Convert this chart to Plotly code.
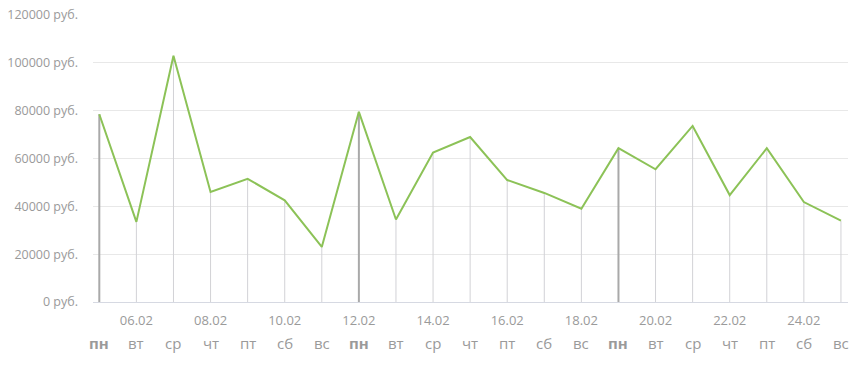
import plotly.graph_objects as go

dates = ["05.02", "06.02", "07.02", "08.02", "09.02", "10.02", "11.02",
         "12.02", "13.02", "14.02", "15.02", "16.02", "17.02", "18.02",
         "19.02", "20.02", "21.02", "22.02", "23.02", "24.02", "25.02"]
weekdays = ["пн", "вт", "ср", "чт", "пт", "сб", "вс",
            "пн", "вт", "ср", "чт", "пт", "сб", "вс",
            "пн", "вт", "ср", "чт", "пт", "сб", "вс"]
revenue = [78500, 33500, 103000, 46000, 51500, 42500, 23000,
           79500, 34500, 62500, 69000, 51000, 45600, 39000,
           64300, 55500, 73600, 44700, 64300, 41800, 34000]
y_ticks = [0, 20000, 40000, 60000, 80000, 100000, 120000]

idx = list(range(len(dates)))
mon = [i for i, w in enumerate(weekdays) if w == "пн"]
other = [i for i in idx if i not in mon]

fig = go.Figure()

# drop lines for regular days
fig.add_trace(go.Scatter(
    x=other, y=[revenue[i] for i in other], mode="markers",
    marker=dict(size=0.1, opacity=0),
    error_y=dict(type="data", symmetric=False, array=[0] * len(other),
                 arrayminus=[revenue[i] for i in other],
                 color="#d2d2d6", thickness=1, width=0),
    hoverinfo="skip", showlegend=False))

# drop lines for Mondays
fig.add_trace(go.Scatter(
    x=mon, y=[revenue[i] for i in mon], mode="markers",
    marker=dict(size=0.1, opacity=0),
    error_y=dict(type="data", symmetric=False, array=[0] * len(mon),
                 arrayminus=[revenue[i] for i in mon],
                 color="#a9a9a9", thickness=2, width=0),
    hoverinfo="skip", showlegend=False))

fig.add_trace(go.Scatter(
    x=idx, y=revenue, mode="lines",
    line=dict(color="#8cc257", width=2),
    showlegend=False))

for i, w in enumerate(weekdays):
    txt = f"<b>{w}</b>" if w == "пн" else w
    fig.add_annotation(x=i, y=-0.143, xref="x", yref="paper", text=txt,
                       showarrow=False, xanchor="center", yanchor="middle",
                       font=dict(family="Open Sans", size=15, color="#9a9a9a"))

fig.update_layout(
    width=861, height=366,
    margin=dict(l=93, r=13, t=15, b=64, autoexpand=False),
    paper_bgcolor="white", plot_bgcolor="white",
    font=dict(family="Open Sans", color="#9a9a9a", size=12),
)
fig.update_xaxes(
    range=[-0.17, 20.19], automargin=False,
    tickmode="array", tickvals=idx[1::2], ticktext=dates[1::2],
    showgrid=False, zeroline=False,
    showline=True, linecolor="#d6d9e2", linewidth=1,
    ticks="", ticklabelstandoff=6,
    tickfont=dict(size=13, color="#9a9a9a"),
)
fig.update_yaxes(
    range=[0, 120000], automargin=False,
    tickmode="array", tickvals=y_ticks,
    ticktext=[f"{v} руб." for v in y_ticks],
    showgrid=True, gridcolor="#e8e8e8", gridwidth=1,
    zeroline=False, ticks="", ticklabelstandoff=14,
    tickfont=dict(size=12.5, color="#9a9a9a"),
)

fig.write_html("out.html")
